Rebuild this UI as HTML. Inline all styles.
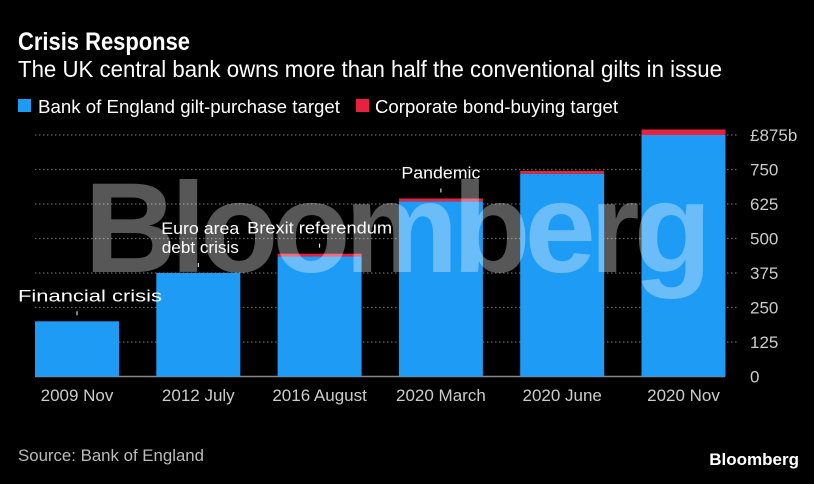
<!DOCTYPE html>
<html><head><meta charset="utf-8">
<style>
body{margin:0;background:#000;width:814px;height:479px;overflow:hidden;font-family:"Liberation Sans",sans-serif;}
svg text{font-family:"Liberation Sans",sans-serif;}
</style></head>
<body>
<svg id="chart" width="814" height="479">
<text x="18" y="50" fill="#fff" font-size="25" font-weight="bold" textLength="172" lengthAdjust="spacingAndGlyphs">Crisis Response</text>
<text x="18" y="77" fill="#fff" font-size="23" textLength="704" lengthAdjust="spacingAndGlyphs">The UK central bank owns more than half the conventional gilts in issue</text>
<rect x="18" y="99" width="13" height="13" fill="#1e9cf5"/>
<text x="38" y="113" fill="#fff" font-size="18" textLength="302" lengthAdjust="spacingAndGlyphs">Bank of England gilt-purchase target</text>
<rect x="356" y="99" width="13" height="13" fill="#e8213f"/>
<text x="375" y="113" fill="#fff" font-size="18" textLength="243" lengthAdjust="spacingAndGlyphs">Corporate bond-buying target</text>
<g id="grid"></g>
<g id="bars"></g>
<g id="ticks"></g>
<g id="xlabels"></g>
<g id="annots"></g>
<text x="395" y="272" fill="rgba(255,255,255,0.34)" font-size="128" font-weight="bold" text-anchor="middle" letter-spacing="-6">Bloomberg</text>
<text x="18" y="461" fill="#bbb" font-size="17" textLength="186" lengthAdjust="spacingAndGlyphs">Source: Bank of England</text>
<text x="799" y="465" fill="#fff" font-size="17" font-weight="bold" text-anchor="end">Bloomberg</text>
</svg>
<script>
const categories=["2009 Nov","2012 July","2016 August","2020 March","2020 June","2020 Nov"];
const giltValues=[200,375,435,635,735,875];
const corpValues=[0,0,10,10,10,20];
const tickValues=[0,125,250,375,500,625,750,875];
const tickLabels=["0","125","250","375","500","625","750","£875b"];
const annotations=[{i:0,lines:["Financial crisis"],w:[144],dx:13},{i:1,lines:["Euro area","debt crisis"],w:[78,77],dx:2},{i:2,lines:["Brexit referendum"],w:[145],dx:0},{i:3,lines:["Pandemic"],w:[79],dx:0}];
const NS="http://www.w3.org/2000/svg";
const y0=376.5,yTop=135,plotL=35,plotR=738,band=121.3,barW=84;
function y(v){return y0-(v/875)*(y0-yTop);}
function xc(i){return plotL+i*band+barW/2;}
function mk(tag,attrs,parent){const e=document.createElementNS(NS,tag);for(const k in attrs)e.setAttribute(k,attrs[k]);document.getElementById(parent).appendChild(e);return e;}
tickValues.forEach((v,k)=>{
  if(v>0){const l=mk('line',{x1:plotL,x2:plotR,y1:y(v),y2:y(v),stroke:'#666','stroke-width':1.3,'stroke-dasharray':'1.5,2.5'},'grid');
  
  }
  const t=mk('text',{x:750,y:y(v)+6,fill:'#ccc','font-size':17},'ticks');
  t.textContent=tickLabels[k];
  
  
});
const zl=mk('line',{x1:plotL,x2:plotR-13,y1:y0,y2:y0,stroke:'#888','stroke-width':1.5},'grid');


categories.forEach((c,i)=>{
  const x=plotL+i*band;
  const b=mk('rect',{x:x,y:y(giltValues[i]),width:barW,height:y0-y(giltValues[i]),fill:'#1e9cf5'},'bars');
  
  
  if(corpValues[i]>0){
    const r=mk('rect',{x:x,y:y(giltValues[i]+corpValues[i]),width:barW,height:y(giltValues[i])-y(giltValues[i]+corpValues[i]),fill:'#e8213f'},'bars');
    
    
  }
  const t=mk('text',{x:xc(i),y:401,fill:'#ccc','font-size':17,'text-anchor':'middle'},'xlabels');
  t.textContent=c;
  
  
});
annotations.forEach(a=>{
  const top=y(giltValues[a.i]+corpValues[a.i]);
  const tk=mk('line',{x1:xc(a.i),x2:xc(a.i),y1:top-10,y2:top-6,stroke:'#fff','stroke-width':1},'annots');
  
  
  a.lines.forEach((ln,j)=>{
    const t=mk('text',{x:xc(a.i)+a.dx,y:top-20-(a.lines.length-1-j)*19,fill:'#fff','font-size':17,'text-anchor':'middle',textLength:a.w[j],lengthAdjust:'spacingAndGlyphs'},'annots');
    t.textContent=ln;
    
    
  });
});
</script>
</body></html>
